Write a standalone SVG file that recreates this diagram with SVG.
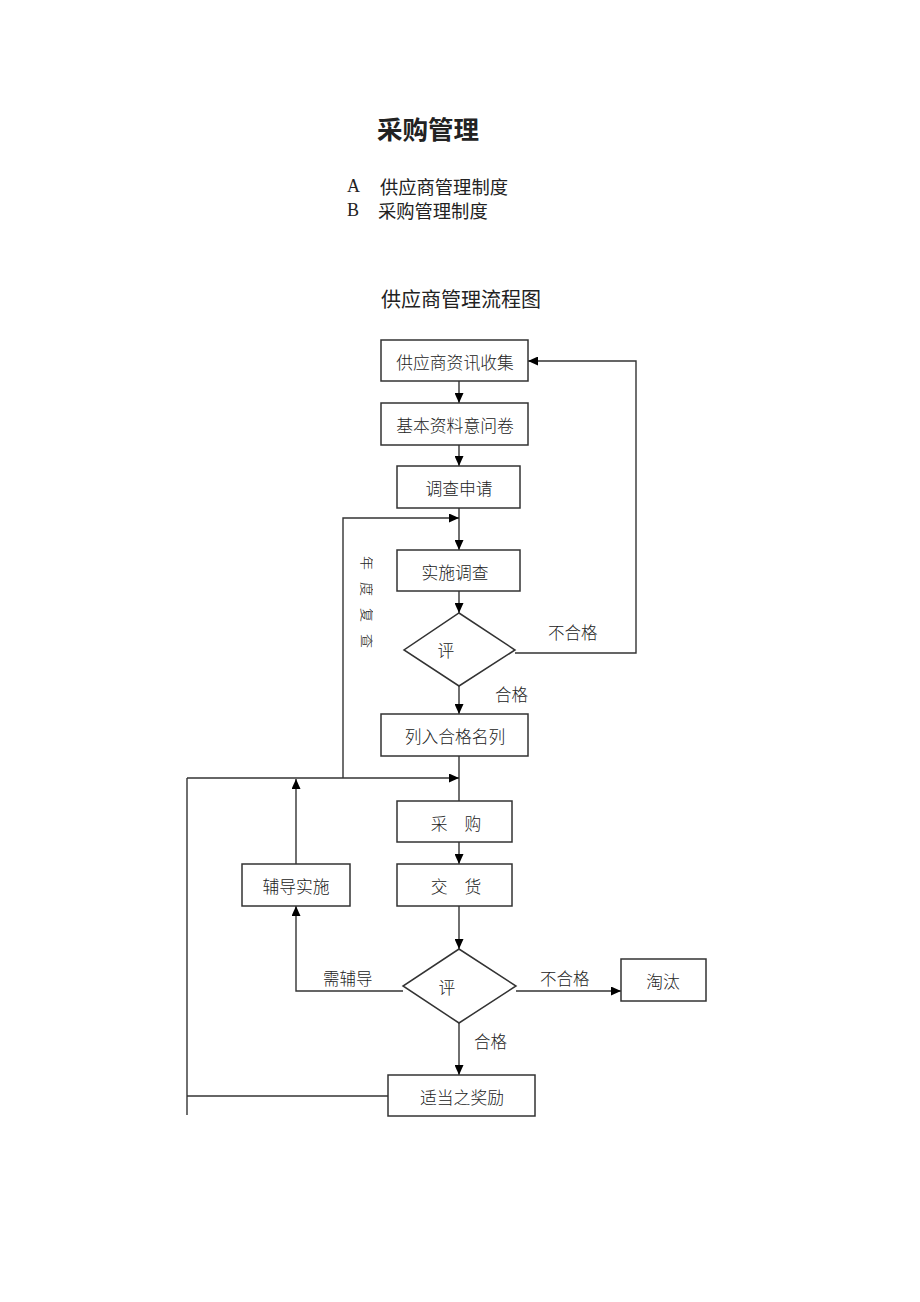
<svg xmlns="http://www.w3.org/2000/svg" width="920" height="1302" viewBox="0 0 920 1302">
<style>
text{font-family:"Noto Sans CJK SC","Liberation Sans",sans-serif;fill:#222}
.bx{fill:#fff;stroke:#333;stroke-width:1.5}
.t{font-size:16.8px;text-anchor:middle;dominant-baseline:central;font-weight:300}
.l{font-size:16.5px;dominant-baseline:central;font-weight:300}
.c{fill:none;stroke:#333;stroke-width:1.4}
</style>
<defs>
<marker id="ah" viewBox="0 0 10 10" refX="10" refY="5" markerWidth="10" markerHeight="9" markerUnits="userSpaceOnUse" orient="auto" preserveAspectRatio="none">
<path d="M0,0 L10,5 L0,10 Z" fill="#000"/>
</marker>
<clipPath id="vc"><rect x="358" y="550" width="15" height="110"/></clipPath>
</defs>
<rect width="920" height="1302" fill="#fff"/>
<g id="header">
<text x="377" y="127" style="font-size:25.5px;font-weight:bold;dominant-baseline:central">采购管理</text>
<text x="347" y="186" style="font-family:'Liberation Serif',serif;font-size:18px;dominant-baseline:central">A</text>
<text x="380" y="186" style="font-size:18.3px;dominant-baseline:central">供应商管理制度</text>
<text x="347" y="210" style="font-family:'Liberation Serif',serif;font-size:18px;dominant-baseline:central">B</text>
<text x="378" y="210" style="font-size:18.3px;dominant-baseline:central">采购管理制度</text>
<text x="381" y="298" style="font-size:20px;dominant-baseline:central">供应商管理流程图</text>
</g>
<g id="connectors">
<line class="c" x1="459" y1="381" x2="459" y2="403" marker-end="url(#ah)"/>
<line class="c" x1="459" y1="445" x2="459" y2="466" marker-end="url(#ah)"/>
<line class="c" x1="459" y1="508" x2="459" y2="550" marker-end="url(#ah)"/>
<polyline class="c" points="343,778 343,518 459,518" marker-end="url(#ah)"/>
<line class="c" x1="459" y1="591" x2="459" y2="613" marker-end="url(#ah)"/>
<polyline class="c" points="515,653 636,653 636,361 528,361" marker-end="url(#ah)"/>
<line class="c" x1="459" y1="686" x2="459" y2="714" marker-end="url(#ah)"/>
<line class="c" x1="459" y1="756" x2="459" y2="815" marker-end="url(#ah)"/>
<line class="c" x1="187" y1="778" x2="459" y2="778" marker-end="url(#ah)"/>
<line class="c" x1="296" y1="864" x2="296" y2="779" marker-end="url(#ah)"/>
<line class="c" x1="459" y1="842" x2="459" y2="864" marker-end="url(#ah)"/>
<line class="c" x1="459" y1="906" x2="459" y2="949" marker-end="url(#ah)"/>
<polyline class="c" points="403,991 296,991 296,906" marker-end="url(#ah)"/>
<line class="c" x1="516" y1="991" x2="621" y2="991" marker-end="url(#ah)"/>
<line class="c" x1="459" y1="1023" x2="459" y2="1075" marker-end="url(#ah)"/>
<line class="c" x1="388" y1="1096" x2="187" y2="1096"/>
<line class="c" x1="187" y1="778" x2="187" y2="1115"/>
<text class="l" x="548" y="632">不合格</text>
<text class="l" x="495" y="694">合格</text>
<text class="l" x="323" y="978">需辅导</text>
<text class="l" x="540" y="978">不合格</text>
<text class="l" x="474" y="1041">合格</text>
<g clip-path="url(#vc)" style="font-size:14px;fill:#555;font-weight:300">
<text transform="translate(368,563) rotate(90)" style="text-anchor:middle;dominant-baseline:central">年</text>
<text transform="translate(368,589) rotate(90)" style="text-anchor:middle;dominant-baseline:central">度</text>
<text transform="translate(368,615) rotate(90)" style="text-anchor:middle;dominant-baseline:central">复</text>
<text transform="translate(368,641) rotate(90)" style="text-anchor:middle;dominant-baseline:central">查</text>
</g>
</g>
<g id="n1"><rect class="bx" x="381" y="340" width="147" height="41"/><text class="t" x="455" y="362">供应商资讯收集</text></g>
<g id="n2"><rect class="bx" x="381" y="403" width="147" height="42"/><text class="t" x="455" y="425">基本资料意问卷</text></g>
<g id="n3"><rect class="bx" x="397" y="466" width="123" height="42"/><text class="t" x="459" y="488">调查申请</text></g>
<g id="n4"><rect class="bx" x="397" y="550" width="123" height="41"/><text class="t" x="455" y="572">实施调查</text></g>
<g id="d1"><polygon class="bx" points="459,613 515,650 459,686 404,650"/><text class="t" x="446" y="650">评</text></g>
<g id="n5"><rect class="bx" x="381" y="714" width="147" height="42"/><text class="t" x="455" y="736">列入合格名列</text></g>
<g id="n6"><rect class="bx" x="397" y="801" width="115" height="41"/><text class="t" x="456" y="823" xml:space="preserve">采　购</text></g>
<g id="n7"><rect class="bx" x="397" y="864" width="115" height="42"/><text class="t" x="456" y="886" xml:space="preserve">交　货</text></g>
<g id="n8"><rect class="bx" x="242" y="864" width="108" height="42"/><text class="t" x="296" y="886">辅导实施</text></g>
<g id="d2"><polygon class="bx" points="459,949 516,986 459,1023 403,986"/><text class="t" x="447" y="987">评</text></g>
<g id="n9"><rect class="bx" x="621" y="959" width="85" height="42"/><text class="t" x="663" y="981">淘汰</text></g>
<g id="n10"><rect class="bx" x="388" y="1075" width="147" height="41"/><text class="t" x="462" y="1097">适当之奖励</text></g>
</svg>
